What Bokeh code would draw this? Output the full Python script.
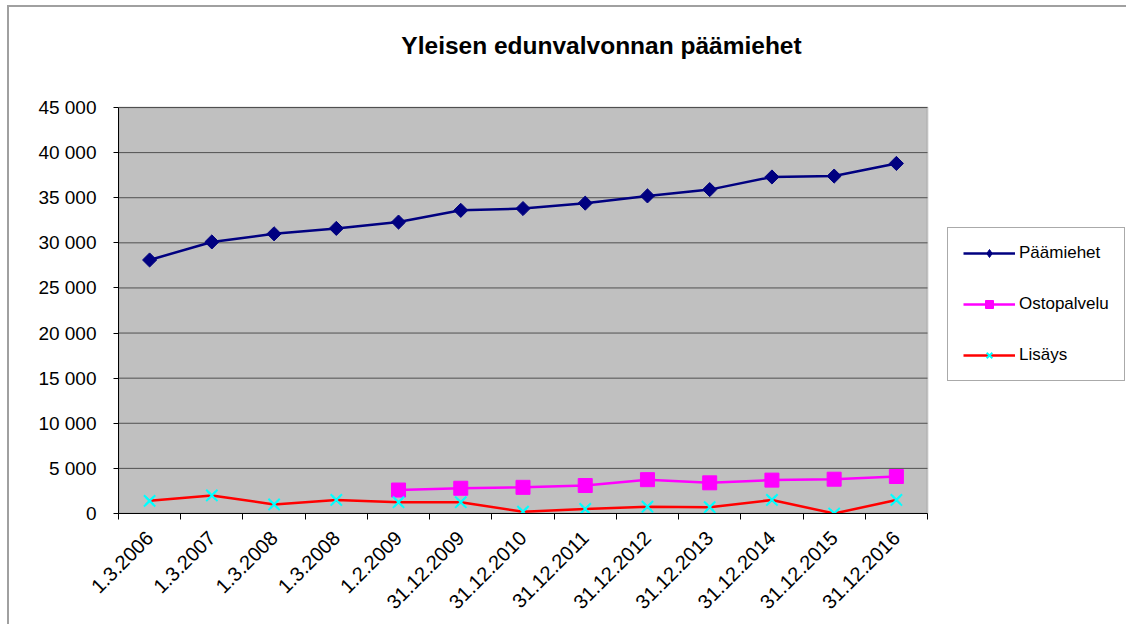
import math
from bokeh.plotting import figure
from bokeh.models import (Range1d, FixedTicker, Legend, LegendItem, ColumnDataSource,
                          BoxAnnotation, Label)
from bokeh.embed import file_html
from bokeh.resources import INLINE

nan = float("nan")

# ---- data ----
dates = ["1.3.2006", "1.3.2007", "1.3.2008", "1.3.2008", "1.2.2009", "31.12.2009",
         "31.12.2010", "31.12.2011", "31.12.2012", "31.12.2013", "31.12.2014",
         "31.12.2015", "31.12.2016"]
paamiehet = [28100, 30100, 31000, 31600, 32300, 33600, 33800, 34400, 35200, 35900, 37300, 37400, 38800]
ostopalvelu = [nan, nan, nan, nan, 2600, 2800, 2900, 3100, 3750, 3400, 3700, 3800, 4100]
lisays = [1400, 2000, 1000, 1500, 1250, 1250, 200, 500, 750, 700, 1500, 0, 1500]
y_ticks = [0, 5000, 10000, 15000, 20000, 25000, 30000, 35000, 40000, 45000]
Y_MAX = 45000

# ---- layout constants (pixels) ----
W, H = 1126, 624
PA_LEFT, PA_RIGHT, PA_TOP, PA_BOTTOM = 118, 927, 107, 513   # gray plot area
N = len(dates)
X0, X1 = -0.5, N - 0.5
x_per_px = (X1 - X0) / (PA_RIGHT - PA_LEFT)
y_per_px = Y_MAX / (PA_BOTTOM - PA_TOP)
x_end = X0 + (W - PA_LEFT) * x_per_px
y_end = PA_BOTTOM * y_per_px

idx = list(range(N))
src = ColumnDataSource(dict(x=idx, p=paamiehet, o=ostopalvelu, l=lisays))

FONT = "Liberation Sans"

p = figure(width=W, height=H, output_backend="svg", toolbar_location=None,
           x_range=Range1d(X0, x_end), y_range=Range1d(0, y_end),
           min_border_left=PA_LEFT, min_border_right=0, min_border_top=0,
           min_border_bottom=H - PA_BOTTOM)
p.styles = {"background": "linear-gradient(#a0a0a0,#a0a0a0) 7px 5px / 2px 100% no-repeat, "
                          "linear-gradient(#a0a0a0,#a0a0a0) 7px 5px / 100% 2px no-repeat, white"}
p.background_fill_color = None
p.border_fill_color = None
p.outline_line_color = None
p.title.text = ""

# gray plot area
p.add_layout(BoxAnnotation(left=X0, right=X1, bottom=0, top=Y_MAX, fill_color="#c0c0c0",
                           fill_alpha=1, line_color="#808080", line_width=2, level="underlay"))

# horizontal gridlines limited to the plot area
p.segment(x0=[X0] * len(y_ticks), x1=[X1] * len(y_ticks), y0=y_ticks, y1=y_ticks,
          line_color="#505050", line_width=1)
p.xgrid.grid_line_color = None
p.ygrid.grid_line_color = None

# title
p.add_layout(Label(x=X0 + (601 - PA_LEFT) * x_per_px, y=(PA_BOTTOM - 45) * y_per_px,
                   text="Yleisen edunvalvonnan päämiehet", text_align="center",
                   text_baseline="middle", text_font=FONT, text_font_size="24.5px",
                   text_font_style="bold", text_color="black"))

# axes
xa = p.xaxis[0]
xa.bounds = (X0, X1)
xa.ticker = FixedTicker(ticks=idx, minor_ticks=[i - 0.5 for i in range(N + 1)])
xa.major_label_overrides = {i: d for i, d in enumerate(dates)}
xa.major_label_orientation = math.pi / 4
xa.major_tick_line_color = None
xa.minor_tick_line_color = "black"
xa.minor_tick_out = 6
xa.minor_tick_in = 0
xa.major_label_text_font = FONT
xa.major_label_text_font_size = "20px"
xa.major_label_text_color = "black"
xa.major_label_standoff = 15
xa.axis_line_color = "black"

ya = p.yaxis[0]
ya.bounds = (0, Y_MAX)
ya.ticker = FixedTicker(ticks=y_ticks)
ya.major_label_overrides = {v: (f"{v:,}".replace(",", " ")) for v in y_ticks}
ya.major_tick_out = 5
ya.major_tick_in = 0
ya.minor_tick_line_color = None
ya.major_label_text_font = FONT
ya.major_label_text_font_size = "19px"
ya.major_label_text_color = "black"
ya.major_label_standoff = 17
ya.axis_line_color = "black"

# small legend markers drawn underneath the real markers
lg_p = p.scatter("x", "p", source=src, marker="diamond", size=11,
                 fill_color="#000080", line_color="#000080")
lg_o = p.scatter("x", "o", source=src, marker="square", size=9,
                 fill_color="#ff00ff", line_color="#ff00ff")
lg_l = p.scatter("x", "l", source=src, marker="x", size=11, line_color="#00ffff", line_width=2)

# series
l_p = p.line("x", "p", source=src, line_color="#000080", line_width=2.5)
p.scatter("x", "p", source=src, marker="square", angle=math.pi / 4, size=10,
          fill_color="#000080", line_color="#000080")
l_o = p.line("x", "o", source=src, line_color="#ff00ff", line_width=2.5)
p.scatter("x", "o", source=src, marker="square", size=14,
          fill_color="#ff00ff", line_color="#ff00ff")
l_l = p.line("x", "l", source=src, line_color="#ff0000", line_width=2.5)
p.scatter("x", "l", source=src, marker="x", size=16, line_color="#00ffff", line_width=2)

legend = Legend(items=[
    LegendItem(label="Päämiehet", renderers=[l_p, lg_p]),
    LegendItem(label="Ostopalvelu", renderers=[l_o, lg_o]),
    LegendItem(label="Lisäys", renderers=[l_l, lg_l]),
], location=(829, 132))
legend.label_text_font = FONT
legend.label_text_font_size = "17px"
legend.label_text_color = "black"
legend.glyph_width = 52
legend.glyph_height = 20
legend.label_height = 20
legend.spacing = 31
legend.padding = 15
legend.margin = 0
legend.label_standoff = 4
legend.border_line_color = "#555555"
legend.border_line_width = 1
legend.background_fill_color = "white"
legend.background_fill_alpha = 1
p.add_layout(legend, "center")

open("out.html", "w").write(file_html(p, INLINE))
